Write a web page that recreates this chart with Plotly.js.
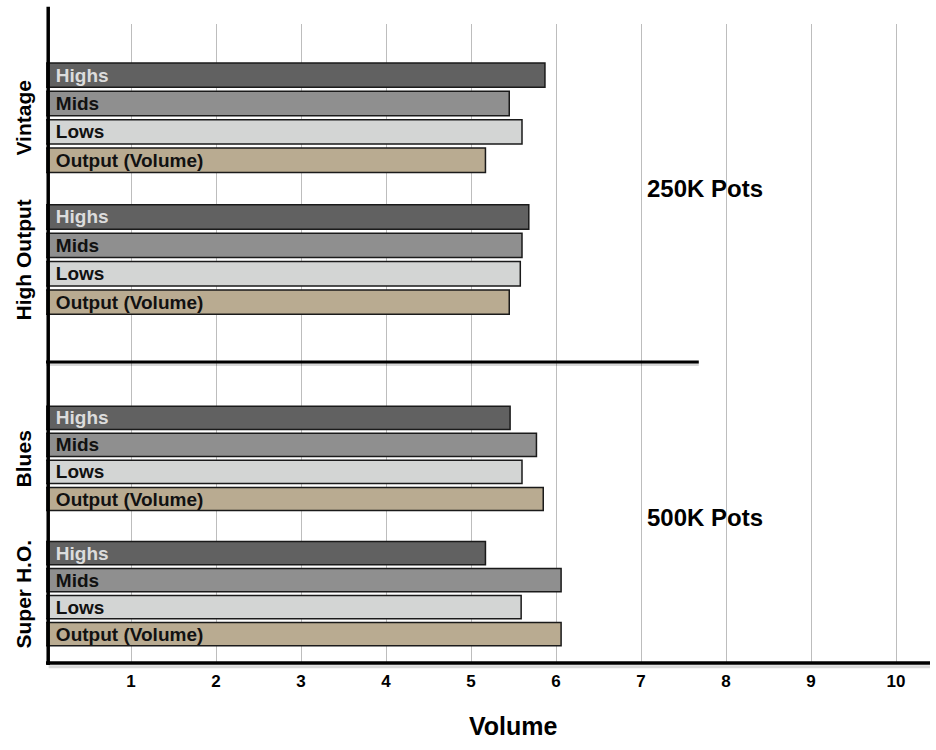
<!DOCTYPE html>
<html>
<head>
<meta charset="utf-8">
<script src="https://cdn.plot.ly/plotly-3.0.1.min.js"></script>
<style>html,body{margin:0;padding:0;background:#fff;}#chart{width:936px;height:750px;}</style>
</head>
<body>
<div id="chart"></div>
<script>
// ---- data ----
const pickups = ["Vintage", "High Output", "Blues", "Super H.O."];
const pickupPot = [0, 0, 1, 1];               // index into potGroups
const potGroups = ["250K Pots", "500K Pots"];
const series = ["Highs", "Mids", "Lows", "Output (Volume)"];
const highs  = [5.87, 5.68, 5.46, 5.17];
const mids   = [5.45, 5.60, 5.77, 6.06];
const lows   = [5.60, 5.58, 5.60, 5.59];
const output = [5.17, 5.45, 5.85, 6.06];
const xTicks = [1, 2, 3, 4, 5, 6, 7, 8, 9, 10];
const xTitle = "Volume";

// ---- styles ----
const colors = ["#616161", "#8f8f8f", "#d3d5d4", "#b9ab91"];
const textColors = ["#dcdcdc", "#111111", "#111111", "#111111"];
const FONT = "Liberation Sans, Arial, Helvetica, sans-serif";
const values = [highs, mids, lows, output];
const yAxisIds = ["y", "y2"];
const split = 0.471;  // paper position of the divider between pot groups

// category arrays per pot group (one blank spacer between pickups)
const catArrays = potGroups.map((g, gi) => {
  const arr = [];
  pickups.forEach((p, pi) => {
    if (pickupPot[pi] !== gi) return;
    if (arr.length) arr.push(" ".repeat(gi + 1));
    series.forEach(s => arr.push(p + "|" + s));
  });
  return arr;
});

const traces = [];
potGroups.forEach((g, gi) => {
  series.forEach((s, si) => {
    const pIdx = pickups.map((p, pi) => pi).filter(pi => pickupPot[pi] === gi);
    traces.push({
      type: "bar", orientation: "h", name: s,
      xaxis: "x", yaxis: yAxisIds[gi],
      y: pIdx.map(pi => pickups[pi] + "|" + s),
      x: pIdx.map(pi => values[si][pi]),
      text: pIdx.map(() => "\u00a0\u200a" + s),
      textposition: "inside", insidetextanchor: "start", constraintext: "none",
      textfont: {family: FONT, size: 19, color: textColors[si], weight: "bold"},
      marker: {color: colors[si], line: {color: "#1a1a1a", width: 1.5}},
      hoverinfo: "x+name"
    });
  });
});

const groupCenter = (pi) => {
  const arr = catArrays[pickupPot[pi]];
  return (arr.indexOf(pickups[pi] + "|" + series[0]) + arr.indexOf(pickups[pi] + "|" + series[3])) / 2;
};

const annotations = pickups.map((p, pi) => ({
  text: "<b>" + p + "</b>",
  xref: "paper", yref: yAxisIds[pickupPot[pi]],
  x: -0.025, y: groupCenter(pi),
  textangle: -90, showarrow: false, xanchor: "center", yanchor: "middle",
  font: {family: FONT, size: 21, color: "#000"}
}));
potGroups.forEach((g, gi) => {
  const spacer = catArrays[gi].indexOf(" ".repeat(gi + 1));
  annotations.push({
    text: "<b>" + g + "</b>", xref: "x", yref: yAxisIds[gi],
    x: 7.05, y: spacer - (gi === 0 ? 0 : 0.33),
    xanchor: "left", yanchor: "middle", showarrow: false,
    font: {family: FONT, size: 24, color: "#000"}
  });
});
annotations.push({
  text: "<b>" + xTitle + "</b>", xref: "paper", yref: "paper",
  x: 0.529, y: -0.0986, xanchor: "center", yanchor: "middle", showarrow: false,
  font: {family: FONT, size: 25, color: "#000"}
});

const shapes = [
  // divider between pot groups (shadow then line)
  {type: "line", xref: "x", yref: "paper", x0: 0, x1: 7.68, y0: split - 0.004, y1: split - 0.004,
   line: {color: "rgba(0,0,0,0.15)", width: 3}, layer: "above"},
  {type: "line", xref: "x", yref: "paper", x0: 0, x1: 7.68, y0: split, y1: split,
   line: {color: "#000", width: 3}, layer: "above"},
  // y axis line (extends above plot)
  {type: "line", xref: "paper", yref: "paper", x0: 0.0025, x1: 0.0025, y0: -0.003, y1: 1.027,
   line: {color: "#000", width: 3.5}, layer: "above"},
  // x axis line with shadow
  {type: "line", xref: "paper", yref: "paper", x0: 0.003, x1: 1.0, y0: -0.006, y1: -0.006,
   line: {color: "rgba(0,0,0,0.15)", width: 3}, layer: "above"},
  {type: "line", xref: "paper", yref: "paper", x0: 0.0, x1: 1.0, y0: 0, y1: 0,
   line: {color: "#000", width: 3.5}, layer: "above"}
];

const catAxis = (gi, domain, range) => ({
  type: "category", categoryorder: "array", categoryarray: catArrays[gi],
  domain: domain, range: range,
  showticklabels: false, ticks: "", showgrid: false, zeroline: false, showline: false
});

const layout = {
  width: 936, height: 750,
  margin: {l: 46, r: 6, t: 24, b: 87},
  paper_bgcolor: "#fff", plot_bgcolor: "#fff",
  showlegend: false,
  barmode: "overlay",
  bargap: 0.14,
  font: {family: FONT, color: "#000"},
  xaxis: {
    anchor: "y2",
    range: [0, 10.4],
    tickmode: "array", tickvals: xTicks, ticktext: xTicks.map(String),
    tickfont: {family: FONT, size: 17, color: "#000", weight: "bold"},
    showgrid: true, gridcolor: "#bdbdbd", gridwidth: 1,
    zeroline: false, showline: false, ticks: "",
    ticklabelstandoff: 6
  },
  yaxis: catAxis(0, [split, 1], [10.11, -1.80]),
  yaxis2: catAxis(1, [0, split], [9.07, -2.07]),
  annotations: annotations,
  shapes: shapes
};

Plotly.newPlot("chart", traces, layout, {displayModeBar: false, staticPlot: true});
</script>
</body>
</html>
